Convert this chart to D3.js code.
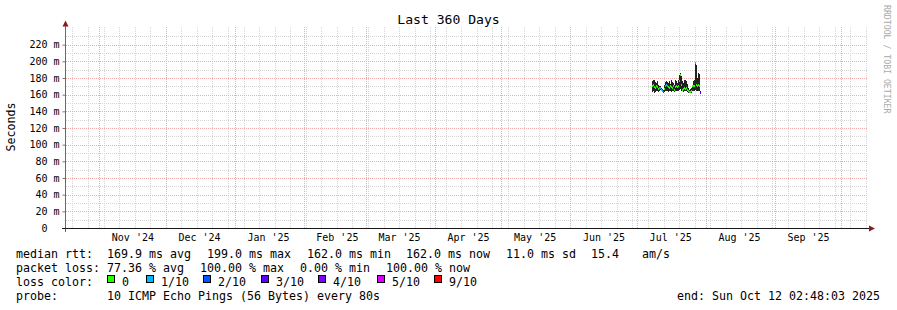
<!DOCTYPE html>
<html lang="en">
<head>
<meta charset="utf-8">
<title>Last 360 Days</title>
<script src="https://cdn.jsdelivr.net/npm/d3@7"></script>
<style>
  body { margin: 0; background: #fff; }
  svg text { font-family: "DejaVu Sans Mono", monospace; fill: #000; white-space: pre; }
</style>
</head>
<body>
<div id="chart"></div>
<script>
  // time window of the graph
  var endTime = new Date("2025-10-12T02:48:03Z");
  var spanDays = 360;

  // consolidated rows (one per 10.8 h) that hold data
  var sampleStart = new Date("2025-07-07T19:00:00Z");
  var sampleStepHours = 10.8;

  // values in ms
  var rttMin = [163, 164, 162, 163, 165, 164, 163, 165, 166, 164,
    163, 162, 163, 164, 165, 164, 163, 164, 165, 163,
    164, 165, 163, 164, 164, 165, 164, 166, 167, 165,
    164, 163, 164, 165, 164, 163, 162, 162, 163, 162,
    164, 165, 164, 166, 165, 164, 165, 164, 161];
  var rttMax = [176, 178, 177, 175, 174, 176, 172, 171, 170, 168,
    167, 166, 172, 175, 176, 175, 174, 176, 173, 177,
    175, 174, 172, 178, 176, 174, 178, 184, 186, 182,
    176, 174, 178, 177, 176, 173, 168, 166, 167, 168,
    172, 176, 178, 199, 196, 180, 186, 185, 164];
  var rttMedian = [171, 172, 169, 168, 170, 169, 167, 168, 168, 166,
    165, 163, 167, 170, 172, 171, 169, 168, 170, 169,
    168, 170, 166, 169, 170, 169, 170, 176, 184, 172,
    166, 167, 168, 167, 168, 166, 164, 163, 163, 164,
    170, 171, 170, 198, 172, 170, 172, 170, 162];
  var lossCount = [0, 0, 0, 0, 0, 0, 0, 1, 1, 0,
    1, 2, 0, 1, 1, 1, 0, 0, 0, 0,
    0, 0, 0, 0, 0, 0, 0, 0, 0, 0,
    0, 0, 0, 0, 0, 0, 0, 0, 0, 0,
    0, 0, 0, 1, 0, 0, 0, 0, 3];

  var yMajor = [0, 20, 40, 60, 80, 100, 120, 140, 160, 180, 200, 220];
  var yMinor = [10, 30, 50, 70, 90, 110, 130, 150, 170, 190, 210, 230];

  var lossSteps = [0, 1, 2, 3, 4, 5, 9];
  var lossLabels = ["0", "1/10", "2/10", "3/10", "4/10", "5/10", "9/10"];
  var lossColors = ["#26ff00", "#00b8ff", "#0059ff", "#5e00ff", "#7e00ff", "#dd00ff", "#ff0000"];

  var rttStats = ["169.9 ms avg", "199.0 ms max", "162.0 ms min", "162.0 ms now", "11.0 ms sd", "15.4", "am/s"];
  var lossStats = ["77.36 % avg", "100.00 % max", "0.00 % min", "100.00 % now"];
  var probeText = "10 ICMP Echo Pings (56 Bytes) every 80s";
  var endText = "end: Sun Oct 12 02:48:03 2025";

  var W = 897, H = 310;
  var startTime = new Date(endTime.getTime() - spanDays * 86400e3);

  var x = d3.scaleUtc().domain([startTime, endTime]).range([66, 866]);
  var y = d3.scaleLinear().domain([0, 240]).range([228, 28]);

  var svg = d3.select('#chart').append('svg')
    .attr('width', W).attr('height', H)
    .style('display', 'block')
    .style('background', '#fff');

  var crisp = v => Math.round(v) + 0.5;

  // grid
  var grid = svg.append('g').attr('shape-rendering', 'crispEdges');
  grid.selectAll('.hmin').data(yMinor).enter().append('line')
    .attr('x1', 66).attr('x2', 868)
    .attr('y1', d => crisp(y(d))).attr('y2', d => crisp(y(d)))
    .attr('stroke', '#d6d6d6').attr('stroke-dasharray', '1,1');
  grid.selectAll('.vmin').data(d3.utcSunday.range(startTime, endTime)).enter().append('line')
    .attr('x1', d => crisp(x(d))).attr('x2', d => crisp(x(d)))
    .attr('y1', 27).attr('y2', 228)
    .attr('stroke', '#d6d6d6').attr('stroke-dasharray', '1,1');
  grid.selectAll('.hmaj').data(yMajor.slice(1)).enter().append('line')
    .attr('x1', 66).attr('x2', 868)
    .attr('y1', d => crisp(y(d))).attr('y2', d => crisp(y(d)))
    .attr('stroke', '#f0abab').attr('stroke-dasharray', '1,1');
  grid.selectAll('.vmaj').data(d3.utcMonth.range(startTime, endTime)).enter().append('line')
    .attr('x1', d => crisp(x(d))).attr('x2', d => crisp(x(d)))
    .attr('y1', 27).attr('y2', 228)
    .attr('stroke', '#f0abab').attr('stroke-dasharray', '1,1');

  // data
  var rows = rttMedian.map((m, i) => ({
    t: new Date(sampleStart.getTime() + i * sampleStepHours * 3600e3),
    min: rttMin[i], max: rttMax[i], med: m, loss: lossCount[i]
  }));
  var stepMs = sampleStepHours * 3600e3;
  function lossColor(n) {
    var c = lossColors[0];
    lossSteps.forEach((s, k) => { if (n >= s) c = lossColors[k]; });
    return c;
  }
  var colW = d => Math.max(1, Math.round(x(new Date(d.t.getTime() + stepMs))) - Math.round(x(d.t)));

  var plot = svg.append('g').attr('shape-rendering', 'crispEdges');
  plot.selectAll('.smoke').data(rows).enter().append('rect')
    .attr('x', d => Math.round(x(d.t)))
    .attr('width', colW)
    .attr('y', d => Math.round(y(d.max)))
    .attr('height', d => Math.max(1, Math.round(y(d.min)) - Math.round(y(d.max))))
    .attr('fill', '#222');
  plot.selectAll('.med').data(rows).enter().append('rect')
    .attr('x', d => Math.round(x(d.t)))
    .attr('width', colW)
    .attr('y', d => Math.round(y(d.med)) - 1)
    .attr('height', 2)
    .attr('fill', d => lossColor(d.loss));

  // axes
  var yAxis = svg.append('g')
    .attr('transform', 'translate(65.5,0)')
    .call(d3.axisLeft(y).tickValues(yMajor).tickSize(3).tickPadding(3)
      .tickFormat(d => d === 0 ? '0  ' : d + ' m'));
  yAxis.select('.domain').remove();
  yAxis.selectAll('line').attr('stroke', '#777');
  yAxis.selectAll('text').attr('font-family', '"DejaVu Sans Mono", monospace').attr('font-size', 10).attr('fill', '#000');

  var monthMids = d3.utcMonth.range(startTime, endTime).map(d => d3.utcDay.offset(d, 15))
    .filter(d => d > startTime && d < endTime);
  var xAxis = svg.append('g')
    .attr('transform', 'translate(0,228)')
    .call(d3.axisBottom(x).tickValues(monthMids).tickSize(0).tickPadding(6)
      .tickFormat(d3.utcFormat("%b '%y")));
  xAxis.select('.domain').remove();
  xAxis.selectAll('text').attr('font-family', '"DejaVu Sans Mono", monospace').attr('font-size', 10).attr('fill', '#000');

  svg.append('line').attr('x1', 65.5).attr('x2', 65.5).attr('y1', 25).attr('y2', 232)
    .attr('stroke', '#6a6a6a');
  svg.append('line').attr('x1', 62).attr('x2', 870).attr('y1', 228.5).attr('y2', 228.5)
    .attr('stroke', '#1a1a1a');
  svg.append('path').attr('d', 'M62.5,26.5 L65.5,20.5 L68.5,26.5 Z').attr('fill', '#8b1c1c');
  svg.append('path').attr('d', 'M869,225.5 L875,228.5 L869,231.5 Z').attr('fill', '#8b1c1c');

  // titles
  svg.append('text').attr('x', W / 2).attr('y', 24).attr('text-anchor', 'middle')
    .attr('font-size', 13.1).text('Last 360 Days');
  svg.append('text').attr('transform', 'translate(15,127) rotate(-90)').attr('text-anchor', 'middle')
    .attr('font-size', 11.6).text('Seconds');
  svg.append('text').attr('transform', 'translate(884,5) rotate(90)')
    .attr('font-size', 8.2).style('fill', '#aaa').text('RRDTOOL / TOBI OETIKER');

  // legend
  var lg = svg.append('g').attr('font-size', 11.63);
  var rttX = [107, 207, 307, 406, 506, 591, 642];
  var lossX = [107, 200, 300, 386];
  lg.append('text').attr('x', 16).attr('y', 258).text('median rtt:');
  lg.selectAll('.rs').data(rttStats).enter().append('text')
    .attr('x', (d, i) => rttX[i]).attr('y', 258).text(d => d);
  lg.append('text').attr('x', 16).attr('y', 272).text('packet loss:');
  lg.selectAll('.ls').data(lossStats).enter().append('text')
    .attr('x', (d, i) => lossX[i]).attr('y', 272).text(d => d);
  lg.append('text').attr('x', 16).attr('y', 286).text('loss color:');
  var swX = [107, 146, 203, 261, 318, 377, 434];
  var sw = lg.selectAll('.sw').data(lossLabels).enter().append('g')
    .attr('transform', (d, i) => 'translate(' + swX[i] + ',0)');
  sw.append('rect').attr('x', 0.5).attr('y', 275.5).attr('width', 7).attr('height', 7)
    .attr('fill', (d, i) => lossColors[i]).attr('stroke', '#000').attr('shape-rendering', 'crispEdges');
  sw.append('text').attr('x', 15).attr('y', 286).text(d => d);
  lg.append('text').attr('x', 16).attr('y', 300).text('probe:');
  lg.append('text').attr('x', 107).attr('y', 300).text(probeText);
  lg.append('text').attr('x', 880).attr('y', 300).attr('text-anchor', 'end').text(endText);
</script>
</body>
</html>
